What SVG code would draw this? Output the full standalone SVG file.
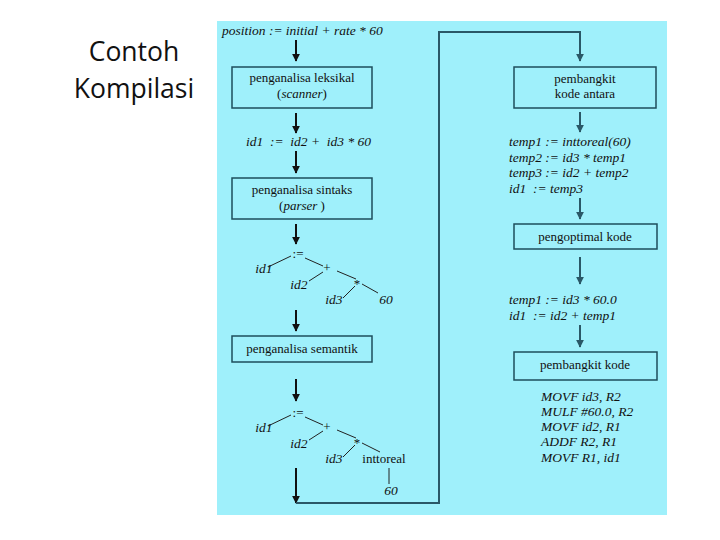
<svg xmlns="http://www.w3.org/2000/svg" width="720" height="540" viewBox="0 0 720 540">
<style>
.it{font-family:'Liberation Serif','Times New Roman',Tinos,'DejaVu Serif',serif;font-style:italic;font-size:13.5px;fill:#111}
.rm{font-family:'Liberation Serif','Times New Roman',Tinos,'DejaVu Serif',serif;font-size:13px;fill:#111}
.box{fill:#9ff0fb;stroke:#1e4d5c;stroke-width:1.5}
.ar{stroke:#111;stroke-width:2;fill:none}
.ar2{stroke:#2a5867;stroke-width:2;fill:none}
.tl{stroke:#222;stroke-width:1;fill:none}
.title{font-family:'Open Sans','Liberation Sans',sans-serif;font-size:26.5px;fill:#111}
</style>
<defs>
<marker id="ah" viewBox="0 0 10 10" refX="9" refY="5" markerWidth="4" markerHeight="4" orient="auto"><path d="M0,0 L10,5 L0,10 z" fill="#111"/></marker>
<marker id="ah2" viewBox="0 0 10 10" refX="9" refY="5" markerWidth="4" markerHeight="4" orient="auto"><path d="M0,0 L10,5 L0,10 z" fill="#2a5867"/></marker>
</defs>
<rect width="720" height="540" fill="#ffffff"/>
<g id="title">
<text class="title" x="134" y="61" text-anchor="middle">Contoh</text>
<text class="title" x="134" y="98" text-anchor="middle">Kompilasi</text>
</g>
<rect x="217" y="21" width="450" height="494" fill="#9ff0fb"/>
<g id="connectors">
<line class="ar" x1="296" y1="40" x2="296" y2="61" marker-end="url(#ah)"/>
<line class="ar" x1="296" y1="113" x2="296" y2="133" marker-end="url(#ah)"/>
<line class="ar" x1="296" y1="151" x2="296" y2="173" marker-end="url(#ah)"/>
<line class="ar" x1="296" y1="224" x2="296" y2="244" marker-end="url(#ah)"/>
<line class="ar" x1="296" y1="310" x2="296" y2="331" marker-end="url(#ah)"/>
<line class="ar" x1="296" y1="379" x2="296" y2="401" marker-end="url(#ah)"/>
<line class="ar" x1="296" y1="468" x2="296" y2="503" marker-end="url(#ah)"/>
<polyline class="ar2" points="296,503 439,503 439,32 580,32 580,61" marker-end="url(#ah2)"/>
<line class="ar2" x1="580" y1="112" x2="580" y2="132" marker-end="url(#ah2)"/>
<line class="ar2" x1="580" y1="198" x2="580" y2="219" marker-end="url(#ah2)"/>
<line class="ar2" x1="580" y1="257" x2="580" y2="284" marker-end="url(#ah2)"/>
<line class="ar2" x1="580" y1="325" x2="580" y2="347" marker-end="url(#ah2)"/>
</g>
<g id="src"><text class="it" x="222" y="35">position := initial + rate * 60</text></g>
<g id="scanner">
<rect class="box" x="232" y="67" width="140" height="41"/>
<text class="rm" x="302" y="82" text-anchor="middle">penganalisa leksikal</text>
<text class="rm" x="302" y="98" text-anchor="middle">(<tspan font-style="italic">scanner</tspan>)</text>
</g>
<g id="tokens"><text class="it" x="246" y="146" xml:space="preserve">id1  :=  id2 +  id3 * 60</text></g>
<g id="parser">
<rect class="box" x="232" y="178" width="140" height="41"/>
<text class="rm" x="302" y="194" text-anchor="middle">penganalisa sintaks</text>
<text class="rm" x="302" y="210" text-anchor="middle">(<tspan font-style="italic">parser</tspan> )</text>
</g>
<g id="tree1">
<path class="tl" d="M268,267 L291,256 M305,258 L323,266 M323,272 L309,281 M337,271 L356,279 M355,286 L343,298 M362,284 L378,293"/>
<text class="rm" x="298" y="258" text-anchor="middle">:=</text>
<text class="it" x="264" y="273" text-anchor="middle">id1</text>
<text class="rm" x="327" y="272" text-anchor="middle">+</text>
<text class="it" x="299" y="289" text-anchor="middle">id2</text>
<text class="rm" x="357" y="288" text-anchor="middle">*</text>
<text class="it" x="334" y="304" text-anchor="middle">id3</text>
<text class="it" x="386" y="304" text-anchor="middle">60</text>
</g>
<g id="semantic">
<rect class="box" x="232" y="336" width="140" height="26"/>
<text class="rm" x="302" y="353" text-anchor="middle">penganalisa semantik</text>
</g>
<g id="tree2">
<path class="tl" d="M268,426 L291,415 M305,417 L323,425 M323,431 L309,440 M337,430 L356,438 M355,445 L343,457 M362,443 L380,452 M389,468 L389,484"/>
<text class="rm" x="298" y="417" text-anchor="middle">:=</text>
<text class="it" x="264" y="432" text-anchor="middle">id1</text>
<text class="rm" x="327" y="431" text-anchor="middle">+</text>
<text class="it" x="299" y="448" text-anchor="middle">id2</text>
<text class="rm" x="357" y="447" text-anchor="middle">*</text>
<text class="it" x="334" y="463" text-anchor="middle">id3</text>
<text class="rm" x="384" y="463" text-anchor="middle">inttoreal</text>
<text class="it" x="391" y="495" text-anchor="middle">60</text>
</g>
<g id="intermediate">
<rect class="box" x="514" y="67" width="142" height="41"/>
<text class="rm" x="585" y="83" text-anchor="middle">pembangkit</text>
<text class="rm" x="585" y="98" text-anchor="middle">kode antara</text>
</g>
<g id="icode">
<text class="it" x="509" y="146">temp1 := inttoreal(60)</text>
<text class="it" x="509" y="162">temp2 := id3 * temp1</text>
<text class="it" x="509" y="177">temp3 := id2 + temp2</text>
<text class="it" x="509" y="193" xml:space="preserve">id1  := temp3</text>
</g>
<g id="optimizer">
<rect class="box" x="514" y="224" width="143" height="25"/>
<text class="rm" x="585" y="241" text-anchor="middle">pengoptimal kode</text>
</g>
<g id="ocode">
<text class="it" x="509" y="304">temp1 := id3 * 60.0</text>
<text class="it" x="509" y="320" xml:space="preserve">id1  := id2 + temp1</text>
</g>
<g id="codegen">
<rect class="box" x="514" y="352" width="143" height="28"/>
<text class="rm" x="585" y="369" text-anchor="middle">pembangkit kode</text>
</g>
<g id="target">
<text class="it" x="541" y="401">MOVF id3, R2</text>
<text class="it" x="541" y="416">MULF #60.0, R2</text>
<text class="it" x="541" y="431">MOVF id2, R1</text>
<text class="it" x="541" y="446">ADDF R2, R1</text>
<text class="it" x="541" y="462">MOVF R1, id1</text>
</g>
</svg>
